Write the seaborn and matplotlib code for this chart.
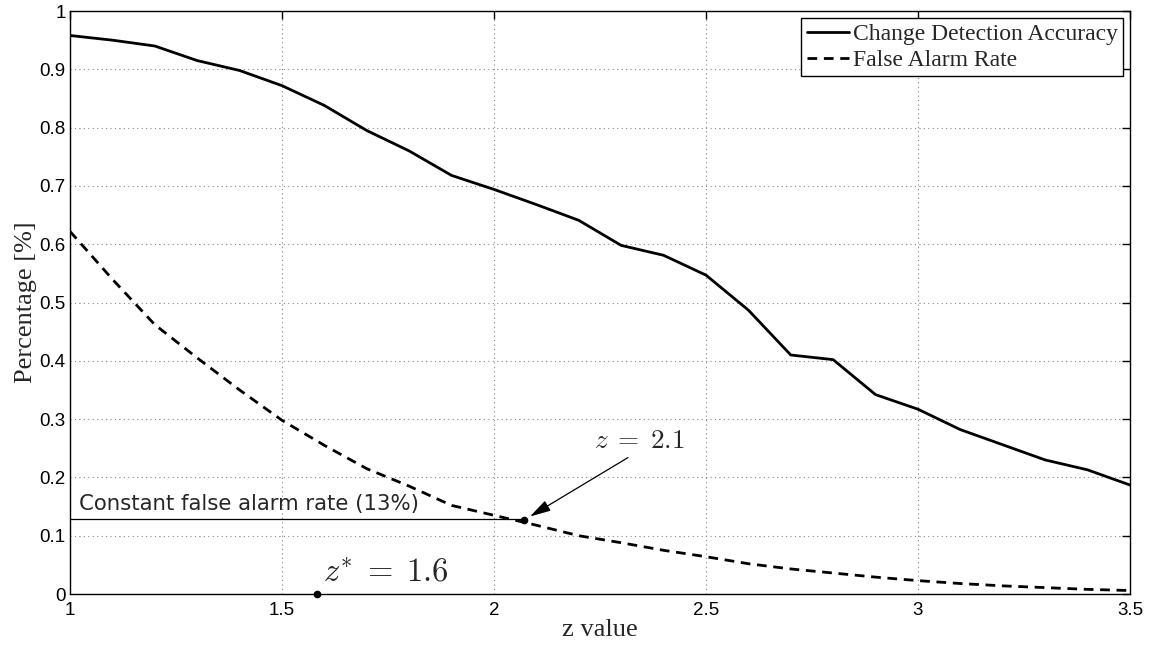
import numpy as np
import pandas as pd
import matplotlib
matplotlib.use("Agg")
import matplotlib.pyplot as plt
import seaborn as sns
from matplotlib.lines import Line2D

# ---- data ----
z_values = [1.0, 1.1, 1.2, 1.3, 1.4, 1.5, 1.6, 1.7, 1.8, 1.9, 2.0, 2.1, 2.2,
            2.3, 2.4, 2.5, 2.6, 2.7, 2.8, 2.9, 3.0, 3.1, 3.2, 3.3, 3.4, 3.5]
accuracy = [0.958, 0.950, 0.940, 0.915, 0.898, 0.872, 0.838, 0.795, 0.760,
            0.718, 0.694, 0.668, 0.641, 0.598, 0.581, 0.547, 0.487, 0.410,
            0.402, 0.342, 0.317, 0.282, 0.256, 0.230, 0.213, 0.187]
false_alarm = [0.622, 0.540, 0.462, 0.405, 0.350, 0.298, 0.255, 0.215, 0.185,
               0.152, 0.135, 0.118, 0.100, 0.088, 0.075, 0.064, 0.052, 0.043,
               0.036, 0.029, 0.023, 0.018, 0.014, 0.011, 0.008, 0.006]
series_names = ["Change Detection Accuracy", "False Alarm Rate"]
x_ticks = [1, 1.5, 2, 2.5, 3, 3.5]
x_ticklabels = ["1", "1.5", "2", "2.5", "3", "3.5"]
y_ticks = [0, 0.1, 0.2, 0.3, 0.4, 0.5, 0.6, 0.7, 0.8, 0.9, 1.0]
y_ticklabels = ["0", "0.1", "0.2", "0.3", "0.4", "0.5", "0.6", "0.7", "0.8", "0.9", "1"]
cfar_level = 0.129          # constant false alarm rate (13%)
cfar_point = (2.07, 0.127)  # z = 2.1 on the false alarm curve
z_star = (1.583, 0.0)       # z* = 1.6

sns.set_theme(style="white")
plt.rcParams["font.family"] = ["Liberation Sans", "DejaVu Sans"]
plt.rcParams["mathtext.fontset"] = "cm"

df = pd.DataFrame({
    "z": z_values * 2,
    "value": accuracy + false_alarm,
    "series": [series_names[0]] * len(z_values) + [series_names[1]] * len(z_values),
})

fig = plt.figure(figsize=(11.53, 6.48), dpi=100)
ax = fig.add_axes([0.0607, 0.0833, 0.9193, 0.8997])

sns.lineplot(data=df, x="z", y="value", hue="series", style="series",
             palette=["black", "black"], dashes=[(None, None), (3.5, 2.4)],
             linewidth=2.0, ax=ax, legend=False)

# constant false alarm rate line
ax.plot([z_values[0], cfar_point[0]], [cfar_level, cfar_level], color="black", lw=0.9)
ax.plot([cfar_point[0]], [cfar_point[1]], "o", color="black", ms=4.5)
ax.plot([z_star[0]], [z_star[1]], "o", color="black", ms=4.5, clip_on=False, zorder=5)

ax.text(1.022, 0.155, "Constant false alarm rate (13%)", fontsize=15.3,
        ha="left", va="center", family=["DejaVu Sans"])
ax.annotate("", xy=(2.085, 0.133), xytext=(2.316, 0.234),
            arrowprops=dict(arrowstyle="-|>,head_width=0.22,head_length=0.8",
                            color="black", lw=0.9,
                            mutation_scale=16, shrinkA=0, shrinkB=0))
ax.text(2.344, 0.262, r"$z\;=\;2.1$", fontsize=19.5, ha="center", va="center")
ax.text(1.745, 0.037, r"$z^{*}\;=\;1.6$", fontsize=23.5, ha="center", va="center")

ax.set_xlim(1, 3.5)
ax.set_ylim(0, 1)
ax.set_xticks(x_ticks)
ax.set_xticklabels(x_ticklabels)
ax.set_yticks(y_ticks)
ax.set_yticklabels(y_ticklabels)
ax.tick_params(direction="in", length=6, width=1, top=True, right=True,
               labelsize=13.5, colors="black")
ax.tick_params(axis="x", pad=6)
ax.tick_params(axis="y", pad=3)
ax.grid(True, linestyle=(0, (1, 3)), color="#888888", lw=0.8)
for s in ax.spines.values():
    s.set_color("black")
    s.set_linewidth(1.0)
    s.set_visible(True)

serif = ["Liberation Serif", "DejaVu Serif"]
ax.set_xlabel("z value", fontsize=19, family=serif, labelpad=0)
ax.set_ylabel("Percentage [%]", fontsize=19, family=serif, labelpad=2)

handles = [Line2D([], [], color="black", lw=2.0),
           Line2D([], [], color="black", lw=2.0, dashes=(3.5, 2.4))]
leg = ax.legend(handles, series_names, loc="upper right", frameon=True,
                fancybox=False, edgecolor="black", framealpha=1,
                prop={"family": serif, "size": 17}, handlelength=1.8,
                handletextpad=0.15, borderpad=0.22, labelspacing=0.2,
                borderaxespad=0.3)
leg.get_frame().set_linewidth(1.0)

fig.savefig("out.png", dpi=100)
